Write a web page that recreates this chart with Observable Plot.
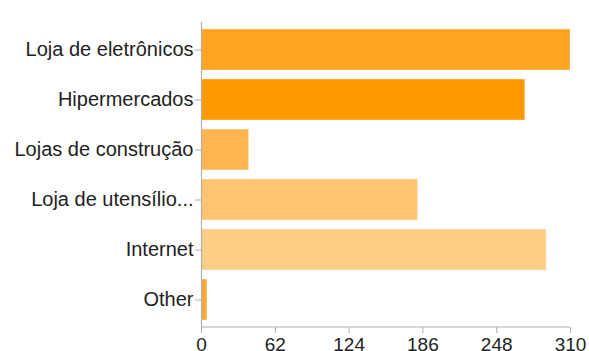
<!DOCTYPE html>
<html><head><meta charset="utf-8">
<script src="https://cdn.jsdelivr.net/npm/d3@7"></script>
<script src="https://cdn.jsdelivr.net/npm/@observablehq/plot@0.6"></script>
<style>
html,body{margin:0;padding:0;background:#fff;overflow:hidden}
#title{position:absolute;left:15px;top:-19px;font:bold 20px "Liberation Sans",Arial,sans-serif;line-height:24px;color:#000;white-space:nowrap}
#chart{position:absolute;left:0;top:0}
</style></head><body>
<div id="title">Onde você geralmente realiza suas compras?</div>
<div id="chart"></div>
<script>
const categories = ["Loja de eletrônicos", "Hipermercados", "Lojas de construção", "Loja de utensílio...", "Internet", "Other"];
const values = [310, 272, 40, 182, 290, 5];
const xTicks = [0, 62, 124, 186, 248, 310];
const barColors = ["#ffa320", "#ff9900", "#ffb652", "#ffc472", "#ffcd86", "#ffab35"];

const data = categories.map((c, i) => ({category: c, value: values[i]}));
const axisGray = "#b0b0b0";

const chart = Plot.plot({
  width: 589, height: 351,
  marginLeft: 201, marginRight: 19, marginTop: 22, marginBottom: 24,
  style: {fontFamily: '"Liberation Sans", Arial, sans-serif', fontSize: "20px", color: "#222", background: "#fff"},
  x: {domain: [0, 310], ticks: xTicks, label: null},
  y: {domain: categories, label: null, paddingInner: 0.18, paddingOuter: 0.105},
  color: {domain: categories, range: barColors},
  marks: [
    Plot.barX(data, {x: "value", y: "category", fill: "category", stroke: "#fff", strokeOpacity: 0.35, strokeWidth: 1}),
    Plot.ruleX([0], {stroke: axisGray, strokeWidth: 1.2}),
    (index, scales, values, dims) => {
      const y = dims.height - dims.marginBottom;
      return d3.create("svg:line")
        .attr("x1", scales.x(0)).attr("x2", scales.x(xTicks[xTicks.length - 1]))
        .attr("y1", y).attr("y2", y)
        .attr("stroke", axisGray).attr("stroke-width", 1.2).node();
    },
    Plot.axisY({tickSize: 6, tickPadding: 2, stroke: axisGray, fontSize: 20, label: null}),
    Plot.axisX({ticks: xTicks, tickSize: 6, tickPadding: 4, stroke: axisGray, fontSize: 19, label: null})
  ]
});
document.getElementById("chart").append(chart);
</script>
</body></html>
